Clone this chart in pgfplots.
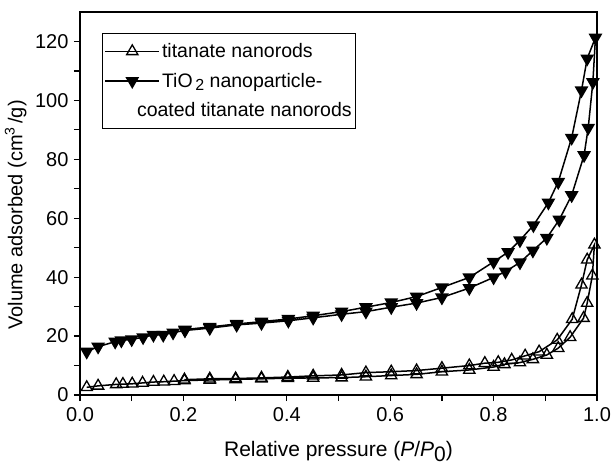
\documentclass[border=0pt]{standalone}
\usepackage{fontspec}
\setmainfont{Liberation Sans}
\usepackage{pgfplots}
\pgfplotsset{compat=1.18}
\begin{document}
\begin{tikzpicture}
\path[use as bounding box] (0,0) rectangle (612pt,465pt);
\begin{axis}[
  at={(80pt,70pt)}, anchor=south west,
  scale only axis, width=517pt, height=383pt,
  xmin=0, xmax=1, ymin=0, ymax=130,
  xtick={0,0.2,0.4,0.6,0.8,1.0}, minor xtick={0.1,0.3,0.5,0.7,0.9},
  ytick={0,20,40,60,80,100,120}, minor ytick={10,30,50,70,90,110},
  tick align=outside, xtick pos=bottom, ytick pos=left,
  major tick length=6pt, minor tick length=6pt,
  tick style={black, line width=1.2pt},
  axis line style={line width=1.2pt},
  /pgf/number format/assume math mode=true,
  every tick label/.append style={font=\fontsize{20}{23}\selectfont},
  xticklabel style={yshift=-3pt, /pgf/number format/.cd, fixed, fixed zerofill, precision=1},
  yticklabel style={xshift=-2pt},
  xlabel={Relative pressure (\textit{P}/\textit{P}\raisebox{-0.45ex}{0})},
  ylabel={Volume adsorbed (cm\textsuperscript{3}\,/g)},
  xlabel style={font=\fontsize{21}{24}\selectfont, at={(axis description cs:0.5,-0.16)}, anchor=base},
  ylabel style={font=\fontsize{20}{23}\selectfont, at={(axis description cs:-0.152,0.47)}, anchor=north},
  legend cell align=left,
  legend style={at={(0.0426,0.945)}, anchor=north west, font=\fontsize{19.5}{23}\selectfont,
    draw=black, line width=1pt, inner xsep=2pt, inner ysep=8pt, row sep=10pt},
  legend image code/.code={\draw[mark repeat=2, mark phase=2] plot coordinates {(0pt,0pt) (27pt,0pt) (54pt,0pt)};},
]
\addplot[black, line width=1.5pt, mark=triangle, mark size=6.5pt, mark options={solid, fill=white, line width=1.3pt}] coordinates {
(0.013,2.6) (0.035,3.1) (0.070,3.6) (0.083,3.7) (0.101,3.8) (0.121,4.1) (0.142,4.4) (0.162,4.5) (0.182,4.7) (0.202,4.9) (0.251,5.1) (0.301,5.3) (0.351,5.5) (0.402,5.7) (0.451,5.8) (0.506,5.9) (0.553,6.2) (0.602,6.6) (0.651,7.0) (0.700,7.9) (0.753,8.5) (0.800,9.5) (0.821,10.4) (0.851,11.0) (0.876,12.1) (0.903,13.6) (0.925,15.9) (0.948,19.6) (0.974,26.1) (0.981,31.2) (0.991,40.5) (0.995,51.0)
(0.981,45.9) (0.970,37.4) (0.952,25.7) (0.923,18.7) (0.888,14.7) (0.861,13.3) (0.835,11.9) (0.809,11.1) (0.783,10.8) (0.753,10.0) (0.700,9.1) (0.651,8.3) (0.602,7.9) (0.553,7.6) (0.506,6.8) (0.451,6.5) (0.402,6.1) (0.351,5.8) (0.301,5.6) (0.251,5.5) (0.202,5.2)
};
\addlegendentry{titanate nanorods}
\addplot[black, line width=1.5pt, mark=triangle*, mark size=6.5pt, mark options={solid, rotate=180, fill=black}] coordinates {
(0.013,14.7) (0.035,16.4) (0.068,18.1) (0.080,18.5) (0.100,18.9) (0.122,19.6) (0.142,20.4) (0.161,20.4) (0.180,21.2) (0.203,21.9) (0.251,22.7) (0.303,23.8) (0.351,24.4) (0.403,25.2) (0.451,26.2) (0.506,27.4) (0.553,28.3) (0.602,29.8) (0.651,31.2) (0.700,33.1) (0.753,36.3) (0.800,39.9) (0.823,41.9) (0.851,45.0) (0.876,49.0) (0.903,53.3) (0.927,59.5) (0.951,67.8) (0.975,81.4) (0.983,90.7) (0.992,106.2) (0.997,121.3)
(0.981,114.2) (0.970,103.4) (0.951,87.3) (0.925,72.3) (0.906,65.3) (0.877,57.6) (0.851,52.5) (0.828,48.5) (0.800,45.2) (0.753,39.9) (0.700,36.5) (0.651,33.4) (0.602,31.4) (0.553,29.8) (0.506,28.3) (0.451,26.9) (0.403,25.8) (0.351,24.9) (0.303,24.1) (0.251,23.1) (0.203,22.2)
};
\addlegendentry{TiO\raisebox{-0.35ex}{\fontsize{16}{16}\selectfont\,2} nanoparticle-}
\addlegendimage{empty legend}
\addlegendentry{\hspace*{-25pt}coated titanate nanorods}
\end{axis}
\end{tikzpicture}
\end{document}
